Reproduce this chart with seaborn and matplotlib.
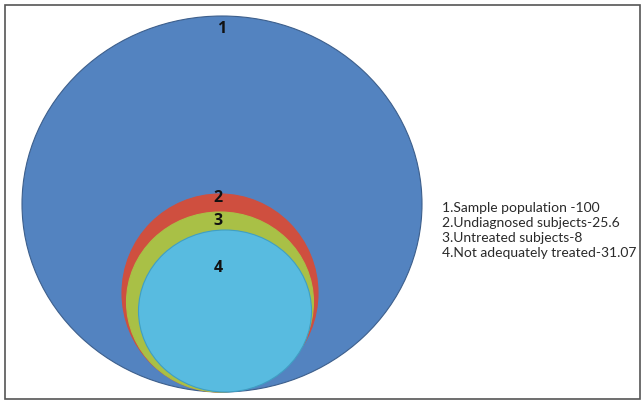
import matplotlib
matplotlib.use("Agg")
import matplotlib.pyplot as plt
from matplotlib.patches import Ellipse, Rectangle
import seaborn as sns

# Data
labels = ["1", "2", "3", "4"]
names = ["Sample population", "Undiagnosed subjects", "Untreated subjects", "Not adequately treated"]
values = ["100", "25.6", "8", "31.07"]
legend_lines = ["1.Sample population -100", "2.Undiagnosed subjects-25.6",
                "3.Untreated subjects-8", "4.Not adequately treated-31.07"]

# Layout (pixel space) - centre x, centre y, width, height
shapes = [(222, 204, 400, 376), (220, 293, 196, 198), (220, 302, 187, 180), (225, 311, 173, 162)]
label_pos = [(222, 29), (218, 198), (218, 221), (218, 268)]
colors = ["#5383c0", "#cf4f3f", "#a9c046", "#58bbe0"]
edges = ["#3d5f8c", "#cf4f3f", "#a9c046", "#3f9fc4"]

sns.set_style("white")
plt.rcParams["font.family"] = ["Lato", "DejaVu Sans"]

fig = plt.figure(figsize=(6.44, 4.09), dpi=100)
ax = fig.add_axes([0, 0, 1, 1])
ax.set_xlim(0, 644)
ax.set_ylim(409, 0)
ax.axis("off")

ax.add_patch(Rectangle((5, 5), 635, 394, fill=False, edgecolor="#555555", linewidth=1.2))

for i, (cx, cy, w, h) in enumerate(shapes):
    ax.add_patch(Ellipse((cx, cy), w, h, facecolor=colors[i], edgecolor=edges[i],
                         linewidth=0.8, zorder=2 + i))

for i, lab in enumerate(labels):
    x, y = label_pos[i]
    ax.text(x, y, lab, ha="center", va="center", fontsize=11.5, fontweight="bold",
            family=["Open Sans", "DejaVu Sans"], color="#111111", zorder=10)

for i, line in enumerate(legend_lines):
    ax.text(442, 208 + i * 15, line, ha="left", va="center", fontsize=10,
            color="#2a2a2a")

fig.savefig("out.png", dpi=100)
